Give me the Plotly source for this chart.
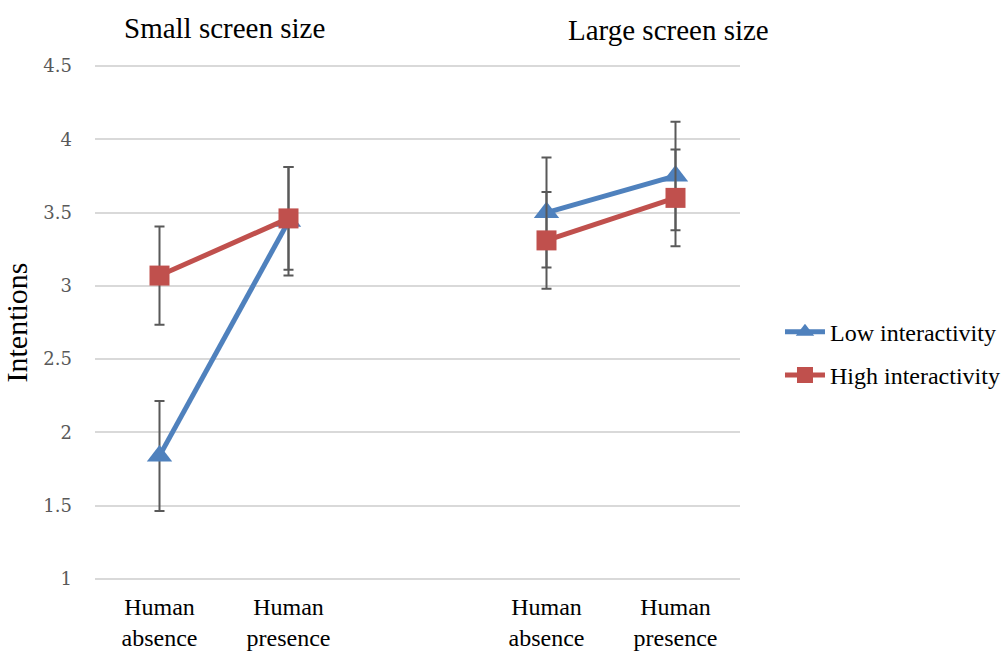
import plotly.graph_objects as go

# Study design: two screen-size groups, each with two human-presence conditions
groups = ["Small screen size", "Large screen size"]
conditions = ["Human<br>absence", "Human<br>presence"]

# Mean intentions per group/condition and their error half-widths
low_means = [[1.84, 3.44], [3.50, 3.75]]
low_err = [[0.375, 0.37], [0.375, 0.37]]
high_means = [[3.07, 3.46], [3.31, 3.60]]
high_err = [[0.335, 0.35], [0.33, 0.33]]

y_ticks = [1, 1.5, 2, 2.5, 3, 3.5, 4, 4.5]

BLUE = "#4f81bd"
RED = "#c0504d"
SERIF = "Liberation Serif"

# Each group occupies len(conditions) slots followed by one empty slot
slot = len(conditions) + 1


def flatten(values):
    xs, ys = [], []
    for g, row in enumerate(values):
        for c, v in enumerate(row):
            xs.append(g * slot + c)
            ys.append(v)
        xs.append(None)
        ys.append(None)
    return xs[:-1], ys[:-1]


def flatten_err(errs):
    out = []
    for row in errs:
        out.extend(row)
        out.append(None)
    return out[:-1]


fig = go.Figure()

for name, means, errs, color, symbol, size in [
    ("Low interactivity", low_means, low_err, BLUE, "triangle-up", 22),
    ("High interactivity", high_means, high_err, RED, "square", 20),
]:
    xs, ys = flatten(means)
    fig.add_trace(go.Scatter(
        x=xs, y=ys, name=name, mode="lines+markers",
        connectgaps=False, legendgroup=name,
        line=dict(color=color, width=5),
        marker=dict(symbol=symbol, size=size, color=color),
        error_y=dict(type="data", array=flatten_err(errs), visible=True,
                     color="#595959", thickness=2, width=5),
    ))

tick_x, tick_text = [], []
for g in range(len(groups)):
    for c, label in enumerate(conditions):
        tick_x.append(g * slot + c)
        tick_text.append(label)

fig.update_layout(
    width=1007, height=655,
    margin=dict(l=95, r=267, t=63, b=73, autoexpand=False),
    paper_bgcolor="white", plot_bgcolor="white",
    font=dict(family=SERIF, color="black"),
    showlegend=True,
    legend=dict(x=1.062, y=0.44, xanchor="left", yanchor="middle",
                font=dict(family=SERIF, size=24, color="black"),
                tracegroupgap=9, itemwidth=40, bgcolor="rgba(0,0,0,0)"),
    xaxis=dict(range=[-0.5, len(groups) * slot - 1.5], tickmode="array",
               tickvals=tick_x, ticktext=tick_text, showgrid=False,
               zeroline=False, showline=False, ticks="",
               ticklabelstandoff=8,
               tickfont=dict(family=SERIF, size=24, color="black")),
    yaxis=dict(range=[0.98, 4.52], tickmode="array", tickvals=y_ticks,
               ticktext=[f"{v:g}" for v in y_ticks],
               showgrid=True, gridcolor="#d9d9d9", gridwidth=1.5,
               zeroline=False, showline=False, ticks="",
               ticklabelstandoff=22,
               tickfont=dict(family="DejaVu Serif", size=18, color="#595959"),
               title=dict(text="Intentions", standoff=8,
                          font=dict(family=SERIF, size=30, color="black"))),
)

# Group headings above the plot
heading_x = [224, 668]
heading_y = [28, 30]
for name, px, py in zip(groups, heading_x, heading_y):
    fig.add_annotation(text=name, xref="paper", yref="paper",
                       x=(px - 95) / 645, y=1, yshift=63 - py,
                       xanchor="center", yanchor="middle", showarrow=False,
                       font=dict(family=SERIF, size=29, color="black"))

fig.write_html("out.html")
